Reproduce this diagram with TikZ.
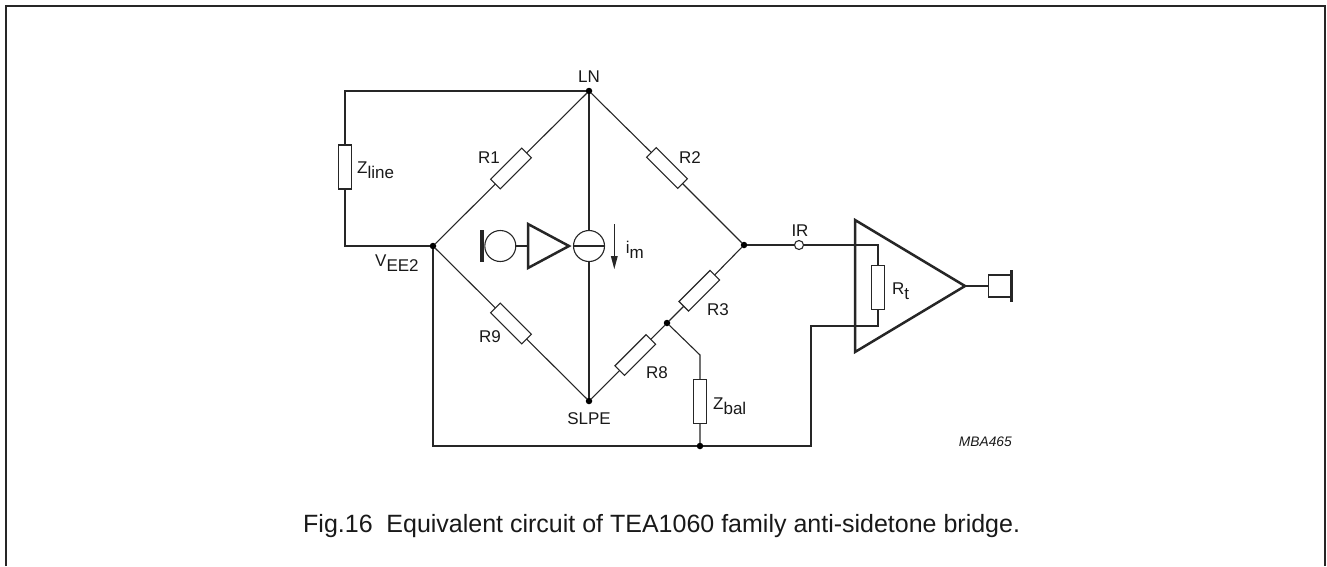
\documentclass[tikz,border=0pt]{standalone}
\usepackage{fontspec}
\setmainfont{Liberation Sans}
\newcommand{\lowtxt}[2]{#1\raisebox{-5.7pt}{#2}}
\tikzset{
  x=1pt,y=-1pt,
  wire/.style={line width=1.1pt,draw=black!85},
  res/.style={draw=black!85,line width=1.1pt,fill=white,rectangle,minimum width=44pt,minimum height=13.5pt,inner sep=0pt,outer sep=0pt},
  vres/.style={res,minimum width=13.5pt,minimum height=44pt},
  dot/.style={circle,fill=black,draw=none,minimum size=6.5pt,inner sep=0pt,outer sep=0pt},
  pin/.style={circle,draw=black!85,line width=1.1pt,fill=white,minimum size=9pt,inner sep=0pt,outer sep=0pt},
  lab/.style={font=\fontsize{17}{20}\selectfont,inner sep=0pt,text=black!90,anchor=base},
  labw/.style={lab,anchor=base west},
  thick line/.style={line width=2.5pt,draw=black!85,line join=miter},
  circ/.style={circle,draw=black!85,line width=1.1pt,fill=white,minimum size=31pt,inner sep=0pt,outer sep=0pt},
}
\begin{document}
\begin{tikzpicture}
\useasboundingbox (0,0) rectangle (1327,566);
\draw[line width=1.8pt,draw=black!85] (5.7,566) -- (5.7,5.7) -- (1325.3,5.7) -- (1325.3,566);
% junctions
\node[dot] (LN) at (589,91) {};
\node[dot] (VEE) at (433,246) {};
\node[dot] (IRJ) at (744,245) {};
\node[dot] (SLPE) at (589,401) {};
\node[dot] (MID) at (667,323) {};
\node[dot] (BOT) at (700,446) {};
\coordinate (TL) at (345,91);
\coordinate (BL) at (345,246);
\coordinate (BBL) at (433,446);
\coordinate (BBR) at (811,446);
\coordinate (RtB) at (878,326);
\coordinate (RtL) at (811,326);
\coordinate (RtT) at (878,245);
\coordinate (ZB) at (700,355);
% resistors
\node[vres] (Zline) at (345,167) {};
\node[res,rotate=45] (R1) at (511,168.5) {};
\node[res,rotate=-45] (R2) at (667,168) {};
\node[res,rotate=-45] (R9) at (511,323.5) {};
\node[res,rotate=45] (R3) at (699.3,290.7) {};
\node[res,rotate=45] (R8) at (635.3,355) {};
\node[vres] (Zbal) at (700,401.5) {};
\node[vres] (Rt) at (878,287.5) {};
\node[pin] (IR) at (799,245) {};
\node[circ] (Mic) at (500.3,246) {};
\node[circ] (Src) at (589,246) {};
\coordinate (AmpIn) at (528,246);
\coordinate (OutAmp) at (966,286);
\node[draw=black!85,line width=1.1pt,minimum width=22pt,minimum height=22pt,inner sep=0pt,outer sep=0pt] (Spk) at (999.5,286) {};
% wires
\draw[wire] (LN) -- (TL) -- (Zline) -- (BL) -- (VEE);
\draw[wire] (LN) -- (R1) -- (VEE);
\draw[wire] (LN) -- (R2) -- (IRJ);
\draw[wire] (LN) -- (Src) -- (SLPE);
\draw[wire] (VEE) -- (R9) -- (SLPE);
\draw[wire] (SLPE) -- (R8) -- (MID) -- (R3) -- (IRJ);
\draw[wire] (MID) -- (ZB) -- (Zbal) -- (BOT);
\draw[wire] (VEE) -- (BBL) -- (BOT) -- (BBR) -- (RtL) -- (RtB) -- (Rt) -- (RtT) -- (IR) -- (IRJ);
\draw[wire] (Mic) -- (AmpIn);
\draw[wire] (OutAmp) -- (Spk);
\draw[wire] (Src.west) -- (Src.east);
% triangles
\draw[thick line] (528,224) -- (569,246) -- (528,268) -- cycle;
\draw[thick line] (855,220) -- (965,286) -- (855,352) -- cycle;
% mic and speaker bars
\draw[line width=3.4pt,draw=black!85] (482,230) -- (482,262);
\draw[line width=2.8pt,draw=black!85] (1011.3,270) -- (1011.3,302);
% current arrow
\draw[line width=1.1pt,draw=black!85] (614.3,224) -- (614.3,258);
\fill[black!85] (610.8,256) -- (617.8,256) -- (614.3,269) -- cycle;
% labels
\node[lab] at (589,82) {LN};
\node[lab] at (489,163) {R1};
\node[lab] at (690,163) {R2};
\node[lab] at (490,342) {R9};
\node[lab] at (718,315) {R3};
\node[lab] at (657,378) {R8};
\node[lab] at (589,424) {SLPE};
\node[lab] at (800,236) {IR};
\node[labw] at (357,173) {\lowtxt{Z}{line}};
\node[labw] at (375,266) {\lowtxt{V}{\hspace{0pt}EE2}};
\node[labw] at (625.7,253) {\lowtxt{i}{m}};
\node[labw] at (713,409) {\lowtxt{Z}{bal}};
\node[labw] at (892,294) {\lowtxt{R}{t}};
\node[lab,anchor=base east,font=\fontsize{13.8}{16}\selectfont\itshape] at (1012,446) {MBA465};
\node[labw,font=\fontsize{25}{30}\selectfont] at (303,532) {Fig.16\hspace{0.55em}Equivalent circuit of TEA1060 family anti-sidetone bridge.};
\end{tikzpicture}
\end{document}
